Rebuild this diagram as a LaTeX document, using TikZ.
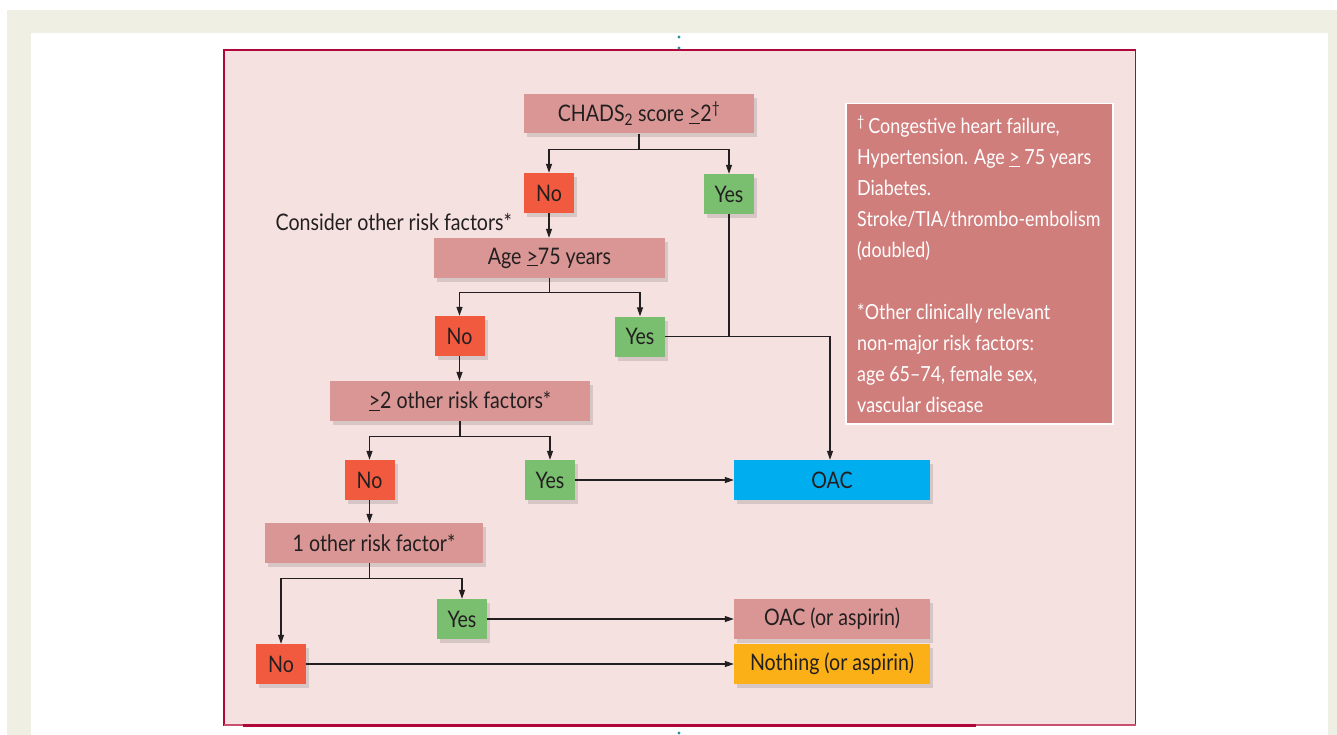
\documentclass[tikz,border=0pt]{standalone}
\usepackage{fontspec}
\setmainfont{Lato}[FakeStretch=0.86]
\usetikzlibrary{arrows.meta,shadows}
\definecolor{beige}{HTML}{EFEFE4}
\definecolor{framec}{HTML}{B0063A}
\definecolor{framelt}{HTML}{C9506E}
\definecolor{framefill}{HTML}{F5E1E0}
\definecolor{dusty}{HTML}{D99694}
\definecolor{legendc}{HTML}{D07E7C}
\definecolor{nored}{HTML}{F15A3F}
\definecolor{yesgreen}{HTML}{79BF6F}
\definecolor{oaccyan}{HTML}{00AEEF}
\definecolor{nothingor}{HTML}{FBB017}
\definecolor{txt}{HTML}{231F20}
\definecolor{dotteal}{HTML}{2A8FA0}
\newcommand\uge{\underline{>}}
\newcommand\mainfs{\fontsize{22.8}{26}\selectfont}
\newcommand\legfs{\fontsize{20.8}{31}\selectfont}
\tikzset{
  box/.style={rectangle, inner sep=0pt, minimum height=40, font=\mainfs, text=txt,
    drop shadow={shadow xshift=3pt, shadow yshift=-4pt, opacity=0.18, fill=black!70}},
  cond/.style={box, fill=dusty},
  nobox/.style={box, fill=nored, minimum width=50},
  yesbox/.style={box, fill=yesgreen, minimum width=50},
  outbox/.style={box, minimum width=196},
  conn/.style={draw=txt, line width=1.2pt},
  arr/.style={conn, -{Triangle[length=9pt,width=6pt]}},
}
\begin{document}
\begin{tikzpicture}[x=1pt,y=-1pt]
\useasboundingbox (0,0) rectangle (1337,735);
\fill[white] (0,0) rectangle (1337,735);
\fill[beige] (7,10) rectangle (1337,735);
\fill[white] (31,33) rectangle (1328,735);
% frame
\draw[framec, line width=1.5pt, fill=framefill] (224,50) rectangle (1135.5,725);
\draw[framelt, line width=1.5pt] (224,725) -- (243,725) (976,725) -- (1135.5,725);
\draw[framec, line width=3pt] (243,725) -- (976,725);
% teal marks
\fill[dotteal] (679,37) circle (1.6) (679,48) circle (1.6) (679,733) circle (1.6);

% nodes
\node[cond, minimum width=230, minimum height=39] (chads) at (639,114)
  {CHADS\textsubscript{2} score \uge2\textsuperscript{\textdagger}};
\node[nobox] (no1) at (549,193) {No};
\node[yesbox] (yes1) at (729,194) {Yes};
\node[anchor=east, font=\mainfs, text=txt, inner sep=0pt] (consider) at (512,222) {Consider other risk factors*};
\node[cond, minimum width=231] (age) at (549.5,258) {Age \uge75 years};
\node[nobox] (no2) at (459.5,336) {No};
\node[yesbox] (yes2) at (640,336.5) {Yes};
\node[cond, minimum width=260] (two) at (460,401) {\uge2 other risk factors*};
\node[nobox] (no3) at (369.5,480) {No};
\node[yesbox] (yes3) at (550,480) {Yes};
\node[outbox, fill=oaccyan] (oac) at (832,480) {OAC};
\node[cond, minimum width=218] (one) at (374,543) {1 other risk factor*};
\node[yesbox] (yes4) at (462,619) {Yes};
\node[nobox] (no4) at (281,664) {No};
\node[outbox, fill=dusty] (oacasp) at (832,619) {OAC (or aspirin)};
\node[outbox, fill=nothingor] (nothing) at (832,664) {Nothing (or aspirin)};

% legend
\node[rectangle, fill=legendc, draw=white, line width=1.5pt, minimum width=267, minimum height=320,
  anchor=north west, inner sep=0pt] (legend) at (845,103) {};
\node[anchor=west, align=left, font=\legfs, text=white, inner sep=0pt] (legendtext) at (857,264)
  {\textsuperscript{\textdagger}\,Congestive heart failure,\\
   Hypertension. Age \uge\ 75 years\\
   Diabetes.\\
   Stroke/TIA/thrombo-embolism\\
   (doubled)\\[31pt]
   *Other clinically relevant\\
   non-major risk factors:\\
   age 65–74, female sex,\\
   vascular disease};

% connectors
\draw[conn] (chads.south) -- ++(0,15.5) coordinate (s1);
\draw[arr] (s1) -| (no1.north);
\draw[arr] (s1) -| (yes1.north);
\draw[arr] (no1.south) -- (no1.south |- age.north);
\draw[conn] (age.south) -- ++(0,14) coordinate (s2);
\draw[arr] (s2) -| (no2.north);
\draw[arr] (s2) -| (yes2.north);
\draw[conn] (yes1.south) -- (yes1.south |- yes2.east);
\draw[arr] (yes2.east) -| ([xshift=-2pt]oac.north);
\draw[arr] (no2.south) -- (no2.south |- two.north);
\draw[conn] (two.south) -- ++(0,15) coordinate (s3);
\draw[arr] (s3) -| (no3.north);
\draw[arr] (s3) -| (yes3.north);
\draw[arr] (yes3.east) -- (oac.west);
\draw[arr] (no3.south) -- (no3.south |- one.north);
\draw[conn] (no3.south |- one.south) -- ++(0,15) coordinate (s4);
\draw[arr] (s4) -| (no4.north);
\draw[arr] (s4) -| (yes4.north);
\draw[arr] (yes4.east) -- (oacasp.west);
\draw[arr] (no4.east) -- (nothing.west);
\end{tikzpicture}
\end{document}
